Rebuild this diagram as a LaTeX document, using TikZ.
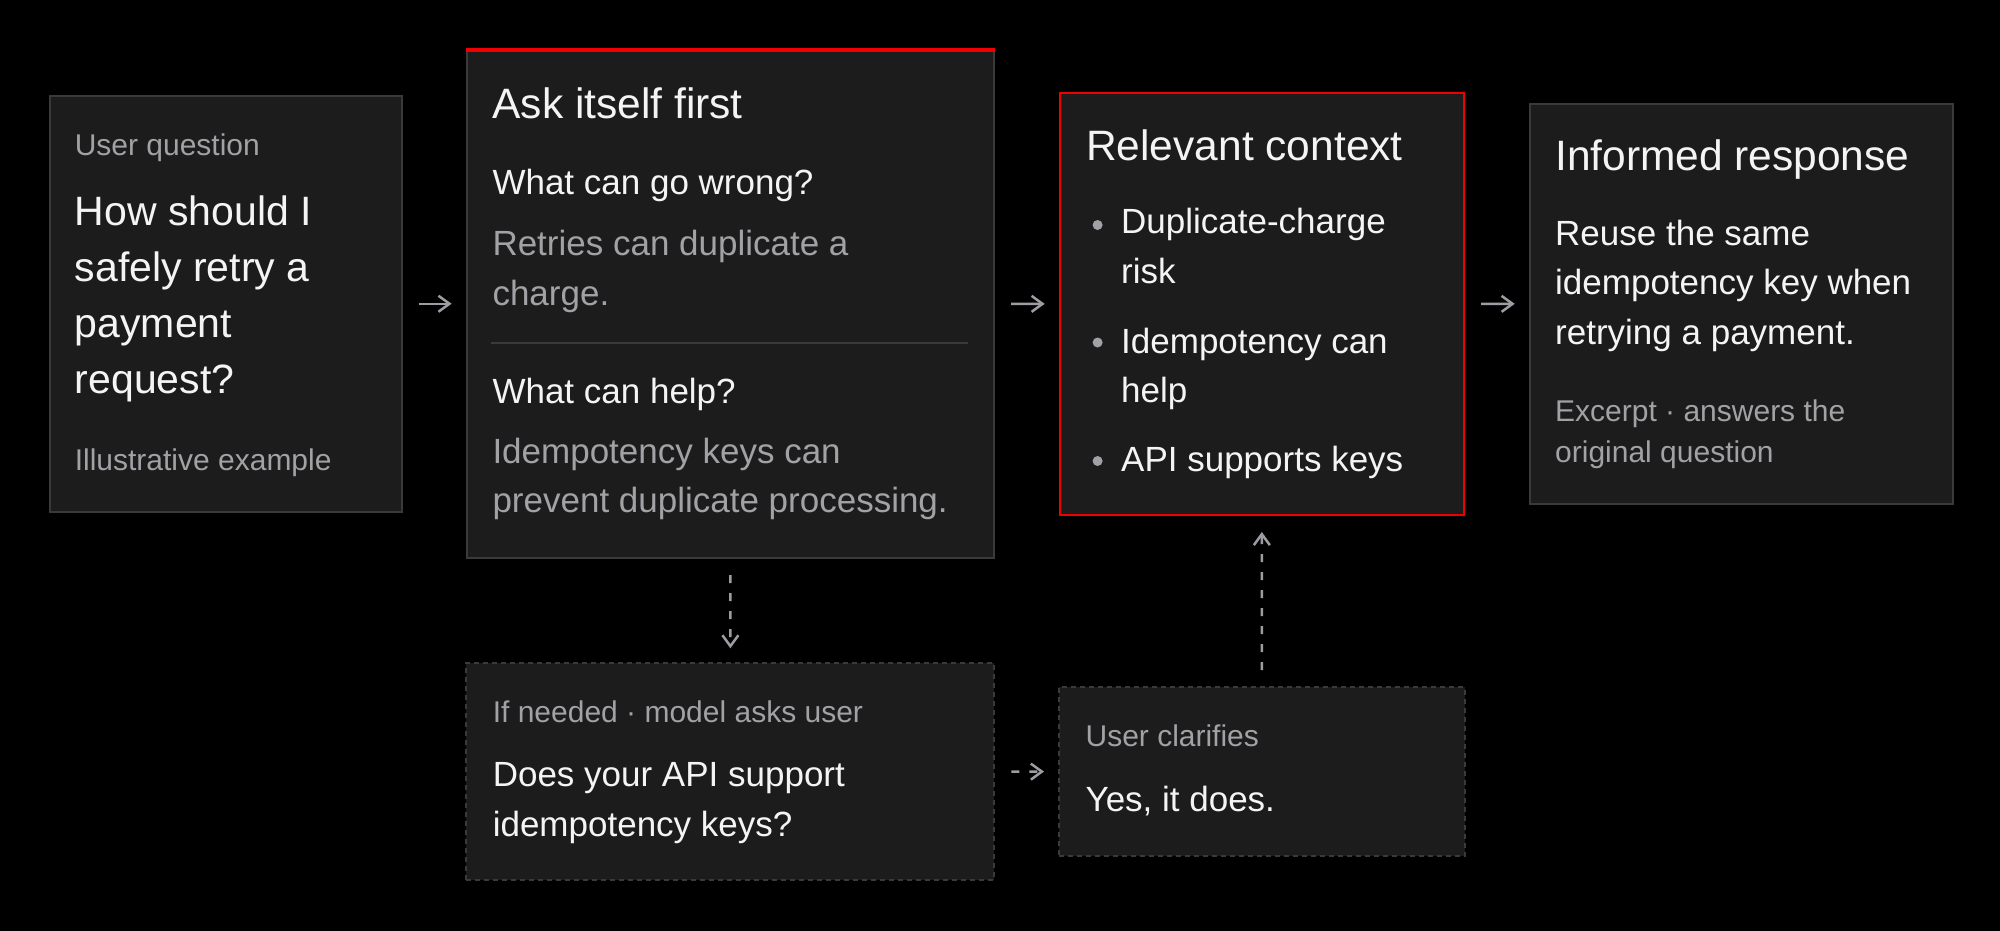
\documentclass[tikz,border=0pt]{standalone}
\usepackage{fontspec}
\setmainfont{Liberation Sans}
\usetikzlibrary{arrows.meta}

\definecolor{cardfill}{HTML}{1C1C1C}
\definecolor{edge}{HTML}{3A3A3A}
\definecolor{accent}{HTML}{F00000}
\definecolor{ink}{HTML}{F4F4F4}
\definecolor{muted}{HTML}{A1A1A6}
\definecolor{flow}{HTML}{9C9CA2}

\newcommand{\headsize}{\fontsize{42.5}{52}\selectfont}
\newcommand{\asksize}{\fontsize{41}{56}\selectfont}
\newcommand{\bodysize}{\fontsize{35}{49.5}\selectfont}
\newcommand{\notesize}{\fontsize{30}{41.3}\selectfont}

\tikzset{
    cardbox/.style={rectangle, draw=edge, line width=2pt, fill=cardfill, inner sep=0pt, anchor=north west},
    hintbox/.style={cardbox, dash pattern=on 5pt off 4pt},
    plaintext/.style={anchor=base west, inner sep=0pt, align=left, text=ink},
    headtext/.style={plaintext, font=\headsize},
    asktext/.style={plaintext, font=\asksize},
    bodytext/.style={plaintext, font=\bodysize},
    notetext/.style={plaintext, font=\notesize, text=muted},
    flowline/.style={draw=flow, line width=2.5pt, -{Straight Barb[length=11pt, width=16pt]}, shorten <=16pt, shorten >=14pt},
    hintline/.style={flowline, dash pattern=on 8pt off 10pt},
}

\begin{document}
\begin{tikzpicture}[x=1pt, y=-1pt]
    \useasboundingbox (0,0) rectangle (2000,930);
    \fill[black] (-5,-5) rectangle (2005,935);

    \node[cardbox, minimum width=352pt, minimum height=416.5pt] (ques) at (48.5,94.5) {};
    \node[cardbox, minimum width=527.5pt, minimum height=508.5pt] (self) at (465.6,48.5) {};
    \node[cardbox, draw=accent, minimum width=404.3pt, minimum height=422.2pt] (ctx) at (1058.7,91.8) {};
    \node[cardbox, minimum width=422.8pt, minimum height=400.4pt] (resp) at (1528.7,102.6) {};
    \node[hintbox, minimum width=528pt, minimum height=217pt] (askuser) at (465.4,662.3) {};
    \node[hintbox, minimum width=405.5pt, minimum height=169pt] (clarify) at (1058,686) {};
    \draw[accent, line width=4pt] ([yshift=-1.5pt]self.north west) -- ([yshift=-1.5pt]self.north east);

    \node[notetext] (quesl) at (74.6,155) {User question};
    \node[asktext] (quest) at (74.6,393.4) {How should I\\safely retry a\\payment\\request?};
    \node[notetext] (quesn) at (74.6,470) {Illustrative example};

    \node[headtext] (selfh) at (492.3,118.6) {Ask itself first};
    \node[bodytext] (wrongh) at (492.3,194.4) {What can go wrong?};
    \node[bodytext, text=muted] (wrongt) at (492.3,305) {Retries can duplicate a\\charge.};
    \draw[edge, line width=2pt] (491,343) -- (968,343);
    \node[bodytext] (helph) at (492.3,403.7) {What can help?};
    \node[bodytext, text=muted] (helpt) at (492.3,512.8) {Idempotency keys can\\prevent duplicate processing.};

    \node[headtext] (ctxh) at (1086,160) {Relevant context};
    \fill[muted] (1097.6,225) circle[radius=5pt];
    \node[bodytext] (item1) at (1121,283.2) {Duplicate-charge\\risk};
    \fill[muted] (1097.6,342.5) circle[radius=5pt];
    \node[bodytext] (item2) at (1121,402.6) {Idempotency can\\help};
    \fill[muted] (1097.6,461) circle[radius=5pt];
    \node[bodytext] (item3) at (1121,471.5) {API supports keys};

    \node[headtext] (resph) at (1555,170.3) {Informed response};
    \node[bodytext] (respt) at (1555,344.4) {Reuse the same\\idempotency key when\\retrying a payment.};
    \node[notetext] (respn) at (1555,462.3) {Excerpt · answers the\\original question};

    \node[notetext] (askl) at (492.6,722.3) {If needed · model asks user};
    \node[bodytext] (askt) at (492.6,836) {Does your API support\\idempotency keys?};

    \node[notetext] (clarl) at (1085.4,746) {User clarifies};
    \node[bodytext] (clart) at (1085.4,811.7) {Yes, it does.};

    \draw[flowline] (ques.east) -- (self.west);
    \draw[flowline] (self.east) -- (ctx.west);
    \draw[flowline] (ctx.east) -- (resp.west);
    \draw[hintline] (self.south) -- (askuser.north);
    \draw[hintline, shorten >=16pt] (clarify.north) -- (ctx.south);
    \draw[hintline] (askuser.east) -- (clarify.west);
\end{tikzpicture}
\end{document}
